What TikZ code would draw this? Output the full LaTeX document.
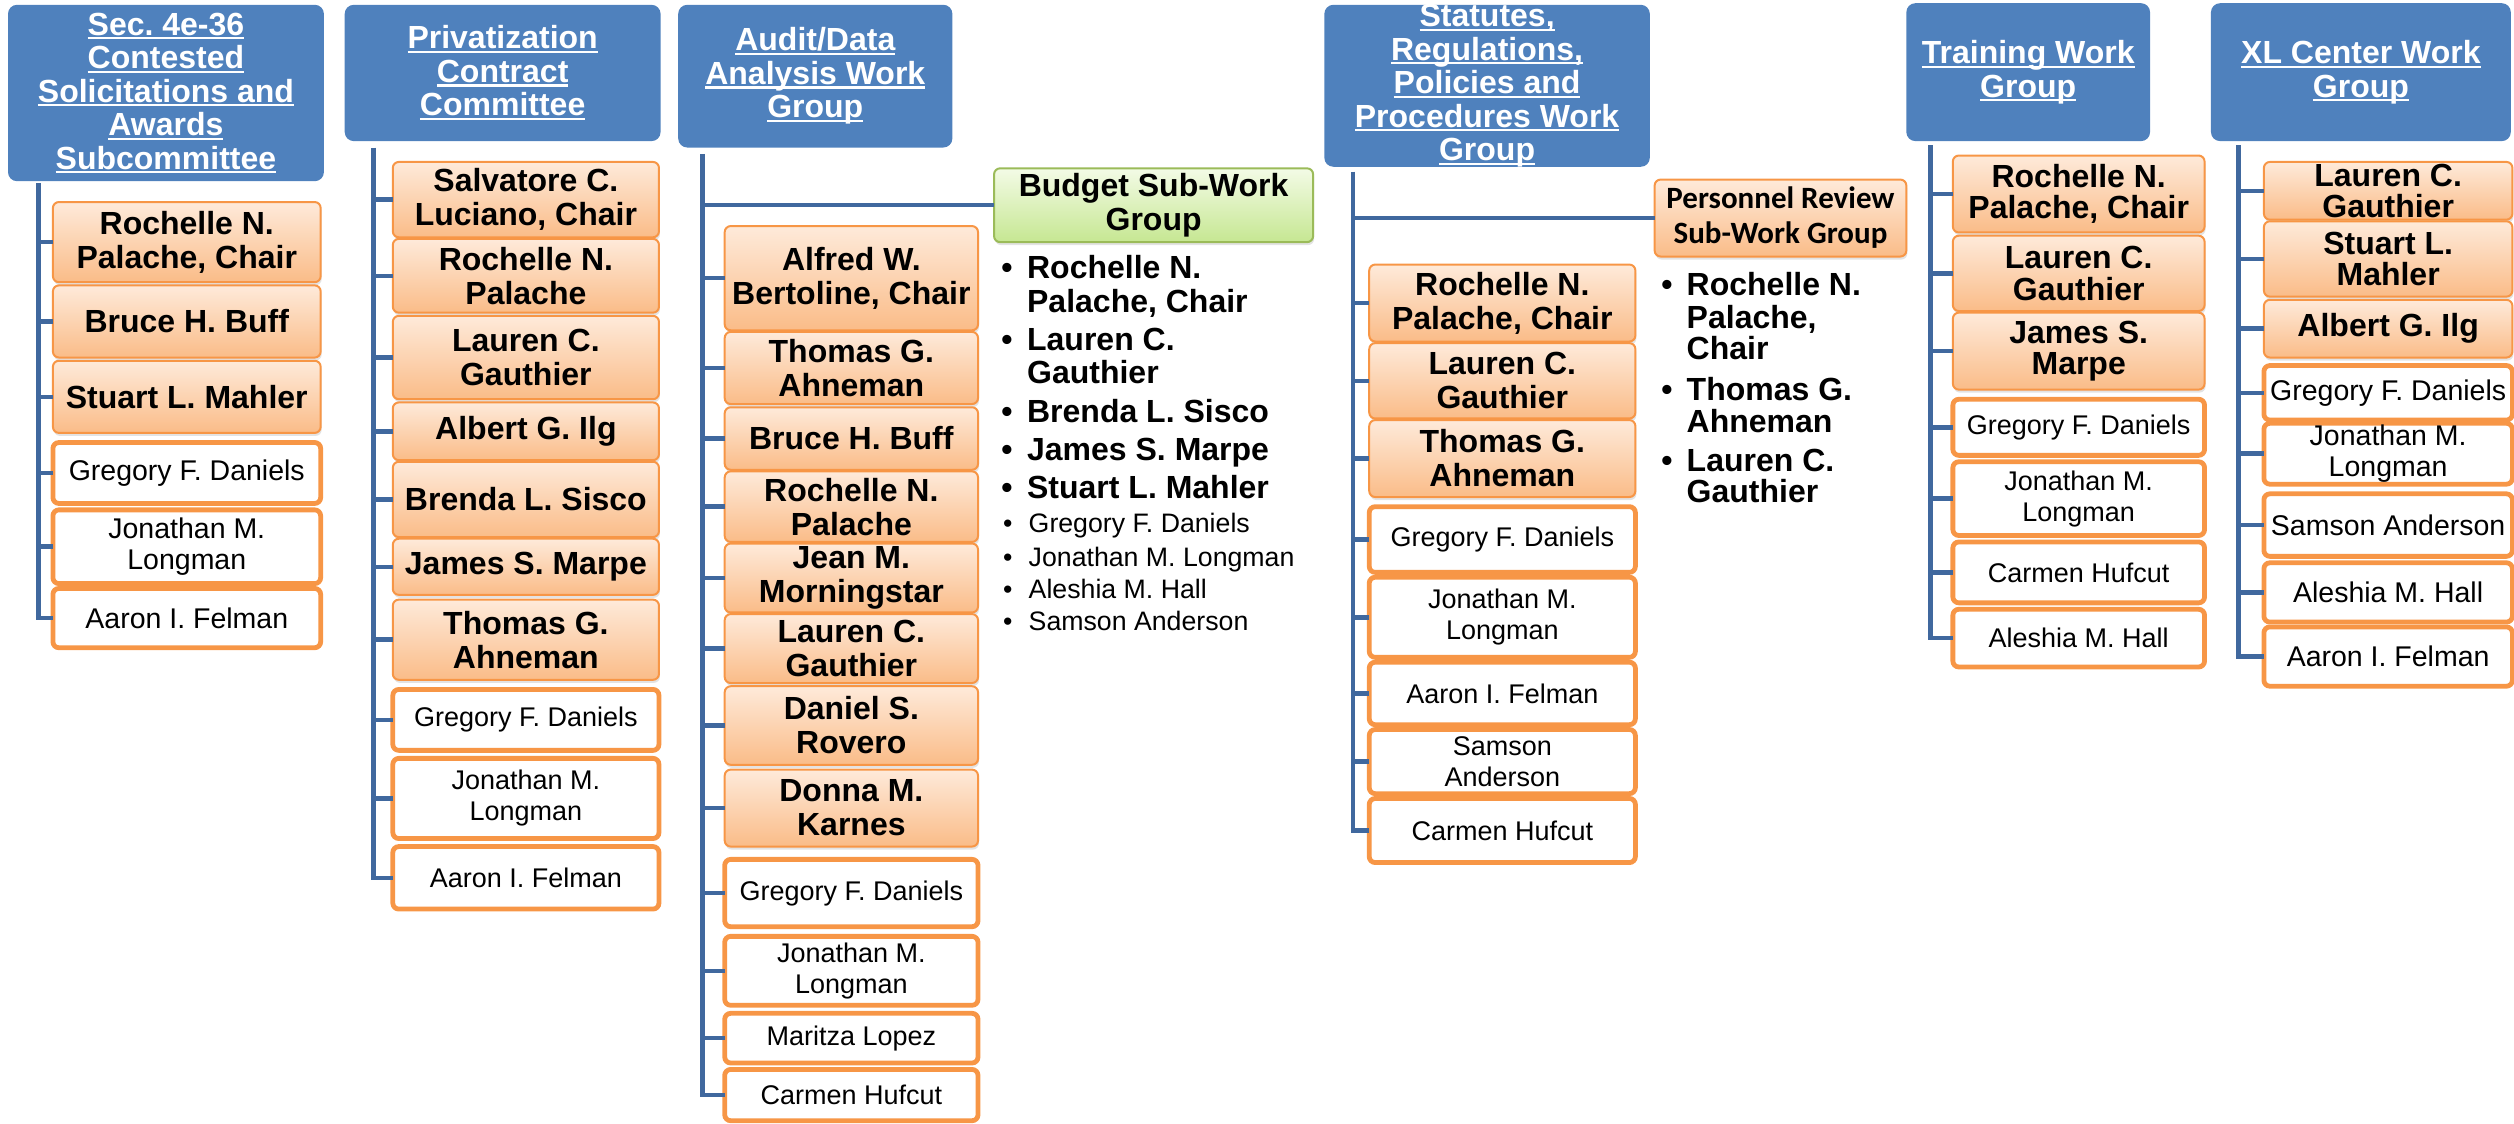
\documentclass[tikz,border=0pt]{standalone}
\usepackage{fontspec}
\setmainfont{Liberation Sans}
\newfontfamily\carlito{Carlito}
\usetikzlibrary{shadows}
\frenchspacing

\definecolor{hdrblue}{RGB}{79,129,189}
\definecolor{linkblue}{RGB}{64,104,158}
\definecolor{orline}{RGB}{247,150,70}
\definecolor{ortop}{RGB}{254,234,218}
\definecolor{orbot}{RGB}{250,188,136}
\definecolor{grline}{RGB}{155,187,89}
\definecolor{grtop}{RGB}{243,251,230}
\definecolor{grbot}{RGB}{198,231,146}

\newcommand\uln[1]{\setbox0=\hbox{#1}\rlap{\rule[-0.13em]{\wd0}{0.07em}}\box0}
\def\U{1.6033}

% #1 name, #2 style, #3 x1, #4 y1, #5 x2, #6 y2, #7 text
\newcommand\bx[7]{%
  \node[#2, minimum width={(#5-#3)*\U*1pt}, minimum height={(#6-#4)*\U*1pt}] (#1) at ({(#3+#5)/2},{(#4+#6)/2}) {};
  \node[#2txt] (#1t) at (#1.center) {#7};}

\tikzset{
  box/.style={rectangle, inner sep=0pt, outer sep=0pt},
  hdr/.style={box, rounded corners=9pt, fill=hdrblue},
  hdrtxt/.style={align=center, text=white, inner sep=0pt, font=\fontsize{32}{33.5}\selectfont\bfseries},
  shad/.style={drop shadow={shadow xshift=1pt, shadow yshift=-3pt, opacity=.22}},
  ob/.style={box, rounded corners=6pt, draw=orline, line width=2pt, top color=ortop, bottom color=orbot, shad},
  obtxt/.style={align=center, inner sep=0pt, font=\fontsize{32}{34}\selectfont\bfseries},
  on/.style={ob},
  ontxt/.style={align=center, inner sep=0pt, font=\fontsize{32}{31.5}\selectfont\bfseries},
  wb/.style={box, rounded corners=6pt, draw=orline, line width=4.8pt, fill=white},
  wbtxt/.style={align=center, inner sep=0pt, font=\fontsize{27}{31}\selectfont},
  wl/.style={wb},
  wltxt/.style={align=center, inner sep=0pt, font=\fontsize{28.5}{31}\selectfont},
  gb/.style={box, rounded corners=6pt, draw=grline, line width=2pt, top color=grtop, bottom color=grbot, shad},
  gbtxt/.style={obtxt},
  pb/.style={ob},
  pbtxt/.style={align=center, inner sep=0pt, font=\carlito\fontsize{31}{35}\selectfont\bfseries},
  conn/.style={draw=linkblue, line width=4.5pt},
  bul/.style={anchor=base west, inner sep=0pt, font=\fontsize{32}{34}\selectfont\bfseries},
  bulr/.style={anchor=base west, inner sep=0pt, font=\fontsize{26.7}{31}\selectfont},
}

\begin{document}
\begin{tikzpicture}[x=\U pt, y=-\U pt]
\useasboundingbox (0,0) rectangle (1568,701);

% ---------- Column 1 ----------
\bx{h1}{hdr}{5}{3}{202}{113}{\uln{Sec. 4e-36}\\\uln{Contested}\\\uln{Solicitations and}\\\uln{Awards}\\\uln{Subcommittee}}
\bx{c1a}{ob}{33}{126}{200}{176}{Rochelle N.\\Palache, Chair}
\bx{c1b}{ob}{33}{178}{200}{223}{Bruce H. Buff}
\bx{c1c}{ob}{33}{225}{200}{270}{Stuart L. Mahler}
\bx{c1d}{wl}{33}{276}{200}{314}{Gregory F. Daniels}
\bx{c1e}{wl}{33}{318}{200}{364}{Jonathan M.\\Longman}
\bx{c1f}{wl}{33}{367}{200}{404}{Aaron I. Felman}
\coordinate (t1) at (24,114);
\draw[conn] (t1) |- (c1f.west);
\foreach \n in {c1a,c1b,c1c,c1d,c1e} \draw[conn] (t1 |- \n.west) -- (\n.west);

% ---------- Column 2 ----------
\bx{h2}{hdr}{215}{3}{412}{88}{\uln{Privatization}\\\uln{Contract}\\\uln{Committee}}
\bx{c2a}{ob}{245}{101}{411}{148}{Salvatore C.\\Luciano, Chair}
\bx{c2b}{ob}{245}{149}{411}{195}{Rochelle N.\\Palache}
\bx{c2c}{ob}{245}{197}{411}{249}{Lauren C.\\Gauthier}
\bx{c2d}{ob}{245}{251}{411}{287}{Albert G. Ilg}
\bx{c2e}{ob}{245}{288}{411}{335}{Brenda L. Sisco}
\bx{c2f}{ob}{245}{336}{411}{371}{James S. Marpe}
\bx{c2g}{ob}{245}{374}{411}{424}{Thomas G.\\Ahneman}
\bx{c2h}{wb}{245}{430}{411}{468}{Gregory F. Daniels}
\bx{c2i}{wb}{245}{473}{411}{523}{Jonathan M.\\Longman}
\bx{c2j}{wb}{245}{528}{411}{567}{Aaron I. Felman}
\coordinate (t2) at (233,92);
\draw[conn] (t2) |- (c2j.west);
\foreach \n in {c2a,c2b,c2c,c2d,c2e,c2f,c2g,c2h,c2i} \draw[conn] (t2 |- \n.west) -- (\n.west);

% ---------- Column 3 ----------
\bx{h3}{hdr}{423}{3}{594}{92}{\uln{Audit/Data}\\\uln{Analysis Work}\\\uln{Group}}
\bx{bud}{gb}{620}{105}{819}{151}{Budget Sub-Work\\Group}
\bx{c3a}{ob}{452}{141}{610}{206}{Alfred W.\\Bertoline, Chair}
\bx{c3b}{ob}{452}{207}{610}{252}{Thomas G.\\Ahneman}
\bx{c3c}{ob}{452}{254}{610}{293}{Bruce H. Buff}
\bx{c3d}{ob}{452}{294}{610}{338}{Rochelle N.\\Palache}
\bx{c3e}{ob}{452}{339}{610}{382}{Jean M.\\Morningstar}
\bx{c3f}{ob}{452}{383}{610}{426}{Lauren C.\\Gauthier}
\bx{c3g}{ob}{452}{428}{610}{477}{Daniel S.\\Rovero}
\bx{c3h}{ob}{452}{480}{610}{528}{Donna M.\\Karnes}
\bx{c3i}{wb}{452}{536}{610}{578}{Gregory F. Daniels}
\bx{c3j}{wb}{452}{584}{610}{627}{Jonathan M.\\Longman}
\bx{c3k}{wb}{452}{632}{610}{663}{Maritza Lopez}
\bx{c3l}{wb}{452}{667}{610}{699}{Carmen Hufcut}
\coordinate (t3) at (438,96);
\draw[conn] (t3) |- (c3l.west);
\draw[conn] (t3 |- bud.west) -- (bud.west);
\foreach \n in {c3a,c3b,c3c,c3d,c3e,c3f,c3g,c3h,c3i,c3j,c3k} \draw[conn] (t3 |- \n.west) -- (\n.west);

% Budget list
\node[bul] (p3b1) at (624.5,173.4) {•};
\node[bul] (p3a1) at (640.5,173.4) {Rochelle N.};
\node[bul] (p3a2) at (640.5,194.6) {Palache, Chair};
\node[bul] (p3b2) at (624.5,218.3) {•};
\node[bul] (p3c1) at (640.5,218.3) {Lauren C.};
\node[bul] (p3c2) at (640.5,238.9) {Gauthier};
\node[bul] (p3b3) at (624.5,263.2) {•};
\node[bul] (p3d) at (640.5,263.2) {Brenda L. Sisco};
\node[bul] (p3b4) at (624.5,286.9) {•};
\node[bul] (p3e) at (640.5,286.9) {James S. Marpe};
\node[bul] (p3b5) at (624.5,310.6) {•};
\node[bul] (p3f) at (640.5,310.6) {Stuart L. Mahler};
\node[bulr] (p3b6) at (625.5,332.4) {•};
\node[bulr] (p3g) at (641.5,332.4) {Gregory F. Daniels};
\node[bulr] (p3b7) at (625.5,353.6) {•};
\node[bulr] (p3h) at (641.5,353.6) {Jonathan M. Longman};
\node[bulr] (p3b8) at (625.5,373) {•};
\node[bulr] (p3i) at (641.5,373) {Aleshia M. Hall};
\node[bulr] (p3b9) at (625.5,393) {•};
\node[bulr] (p3j) at (641.5,393) {Samson Anderson};

% ---------- Column 4 ----------
\bx{h4}{hdr}{826}{3}{1029}{104}{\uln{Statutes,}\\\uln{Regulations,}\\\uln{Policies and}\\\uln{Procedures Work}\\\uln{Group}}
\bx{per}{pb}{1032}{112}{1189}{160}{Personnel Review\\Sub-Work Group}
\bx{c4a}{ob}{854}{165}{1020}{213}{Rochelle N.\\Palache, Chair}
\bx{c4b}{ob}{854}{214}{1020}{261}{Lauren C.\\Gauthier}
\bx{c4c}{ob}{854}{262}{1020}{310}{Thomas G.\\Ahneman}
\bx{c4d}{wb}{854}{316}{1020}{357}{Gregory F. Daniels}
\bx{c4e}{wb}{854}{360}{1020}{410}{Jonathan M.\\Longman}
\bx{c4f}{wb}{854}{413}{1020}{452}{Aaron I. Felman}
\bx{c4g}{wb}{854}{455}{1020}{495}{Samson\\Anderson}
\bx{c4h}{wb}{854}{498}{1020}{538}{Carmen Hufcut}
\coordinate (t4) at (844,107);
\draw[conn] (t4) |- (c4h.west);
\draw[conn] (t4 |- per.west) -- (per.west);
\foreach \n in {c4a,c4b,c4c,c4d,c4e,c4f,c4g} \draw[conn] (t4 |- \n.west) -- (\n.west);

% Personnel list
\node[bul] (p4b1) at (1036,184) {•};
\node[bul] (p4a1) at (1051.9,184) {Rochelle N.};
\node[bul] (p4a2) at (1051.9,204.6) {Palache,};
\node[bul] (p4a3) at (1051.9,224.5) {Chair};
\node[bul] (p4b2) at (1036,249.5) {•};
\node[bul] (p4c1) at (1051.9,249.5) {Thomas G.};
\node[bul] (p4c2) at (1051.9,270) {Ahneman};
\node[bul] (p4b3) at (1036,294.2) {•};
\node[bul] (p4d1) at (1051.9,294.2) {Lauren C.};
\node[bul] (p4d2) at (1051.9,313.7) {Gauthier};

% ---------- Column 5 ----------
\bx{h5}{hdr}{1189}{2}{1341}{88}{\uln{Training Work}\\\uln{Group}}
\bx{c5a}{on}{1218}{97}{1375}{145}{Rochelle N.\\Palache, Chair}
\bx{c5b}{on}{1218}{147}{1375}{194}{Lauren C.\\Gauthier}
\bx{c5c}{on}{1218}{195}{1375}{243}{James S.\\Marpe}
\bx{c5d}{wb}{1218}{249}{1375}{284}{Gregory F. Daniels}
\bx{c5e}{wb}{1218}{288}{1375}{334}{Jonathan M.\\Longman}
\bx{c5f}{wb}{1218}{338}{1375}{376}{Carmen Hufcut}
\bx{c5g}{wb}{1218}{380}{1375}{416}{Aleshia M. Hall}
\coordinate (t5) at (1204,90.5);
\draw[conn] (t5) |- (c5g.west);
\foreach \n in {c5a,c5b,c5c,c5d,c5e,c5f} \draw[conn] (t5 |- \n.west) -- (\n.west);

% ---------- Column 6 ----------
\bx{h6}{hdr}{1379}{2}{1566}{88}{\uln{XL Center Work}\\\uln{Group}}
\bx{c6a}{on}{1412}{101}{1567}{137}{Lauren C.\\Gauthier}
\bx{c6b}{on}{1412}{138}{1567}{185}{Stuart L.\\Mahler}
\bx{c6c}{on}{1412}{187}{1567}{223}{Albert G. Ilg}
\bx{c6d}{wl}{1412}{228}{1567}{262}{Gregory F. Daniels}
\bx{c6e}{wl}{1412}{264}{1567}{302}{Jonathan M.\\Longman}
\bx{c6f}{wl}{1412}{308}{1567}{347}{Samson Anderson}
\bx{c6g}{wl}{1412}{351}{1567}{388}{Aleshia M. Hall}
\bx{c6h}{wl}{1412}{391}{1567}{428}{Aaron I. Felman}
\coordinate (t6) at (1396,90.5);
\draw[conn] (t6) |- (c6h.west);
\foreach \n in {c6a,c6b,c6c,c6d,c6e,c6f,c6g} \draw[conn] (t6 |- \n.west) -- (\n.west);
\end{tikzpicture}
\end{document}
